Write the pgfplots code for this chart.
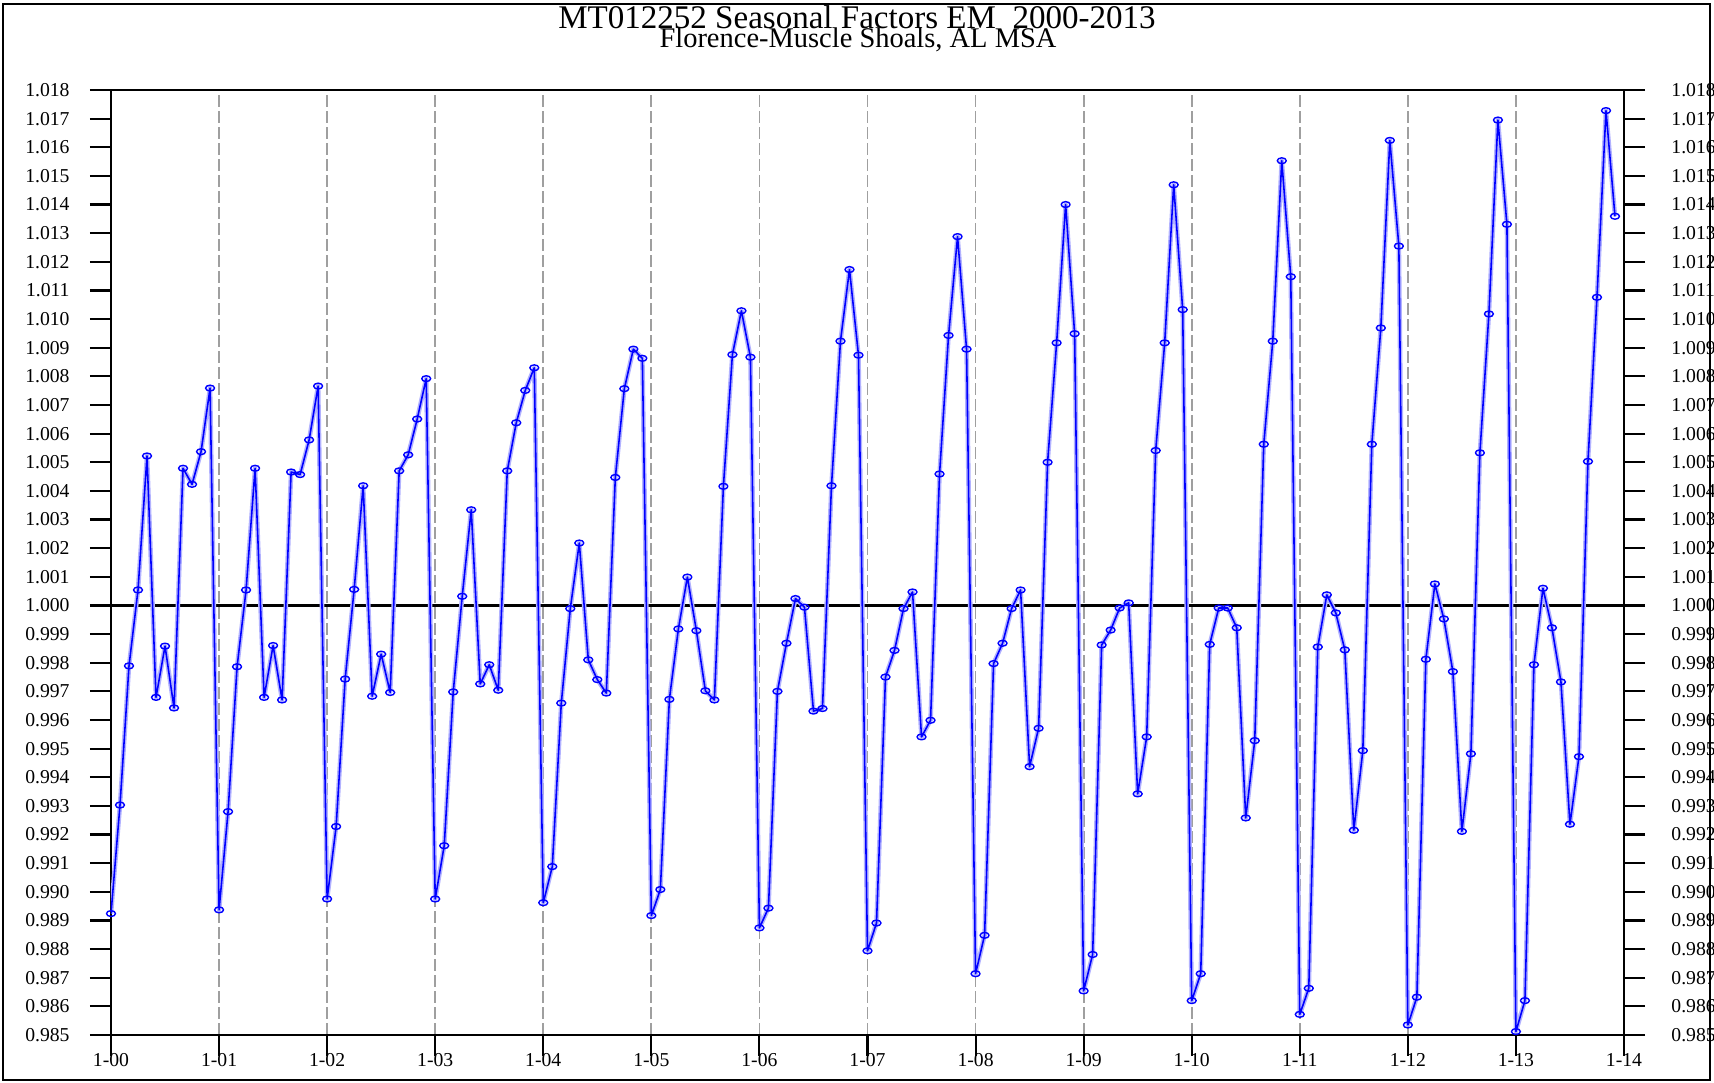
\documentclass[border=0pt]{standalone}
\usepackage{fontspec}
\setmainfont{Liberation Serif}
\usepackage{pgfplots}
\usepackage{pgfplotstable}
\pgfplotsset{compat=1.18}

% seasonal factors, Jan 2000 .. Dec 2013, one year per line
\pgfplotstableread[row sep=\\]{
sf\\
0.98924\\0.99303\\0.99789\\1.00054\\1.00522\\0.99679\\0.99858\\0.99642\\1.00479\\1.00423\\1.00537\\1.00759\\
0.98937\\0.99280\\0.99786\\1.00054\\1.00479\\0.99679\\0.99860\\0.99670\\1.00466\\1.00457\\1.00578\\1.00766\\
0.98975\\0.99228\\0.99743\\1.00056\\1.00418\\0.99683\\0.99830\\0.99696\\1.00470\\1.00526\\1.00651\\1.00792\\
0.98975\\0.99161\\0.99698\\1.00032\\1.00334\\0.99726\\0.99793\\0.99704\\1.00470\\1.00638\\1.00751\\1.00830\\
0.98962\\0.99088\\0.99659\\0.99989\\1.00218\\0.99810\\0.99741\\0.99694\\1.00447\\1.00757\\1.00895\\1.00863\\
0.98917\\0.99008\\0.99672\\0.99918\\1.00099\\0.99912\\0.99702\\0.99670\\1.00416\\1.00876\\1.01029\\1.00867\\
0.98874\\0.98943\\0.99700\\0.99868\\1.00024\\0.99994\\0.99631\\0.99640\\1.00418\\1.00923\\1.01173\\1.00874\\
0.98794\\0.98891\\0.99750\\0.99843\\0.99989\\1.00047\\0.99541\\0.99599\\1.00459\\1.00943\\1.01288\\1.00895\\
0.98714\\0.98848\\0.99797\\0.99868\\0.99989\\1.00054\\0.99437\\0.99571\\1.00500\\1.00917\\1.01400\\1.00949\\
0.98654\\0.98781\\0.99862\\0.99914\\0.99991\\1.00009\\0.99342\\0.99541\\1.00541\\1.00917\\1.01469\\1.01033\\
0.98620\\0.98714\\0.99864\\0.99991\\0.99991\\0.99922\\0.99258\\0.99528\\1.00563\\1.00923\\1.01553\\1.01148\\
0.98572\\0.98663\\0.99855\\1.00037\\0.99974\\0.99845\\0.99215\\0.99493\\1.00563\\1.00969\\1.01624\\1.01255\\
0.98535\\0.98632\\0.99812\\1.00075\\0.99953\\0.99769\\0.99211\\0.99482\\1.00533\\1.01018\\1.01695\\1.01331\\
0.98512\\0.98620\\0.99793\\1.00060\\0.99922\\0.99733\\0.99236\\0.99472\\1.00503\\1.01076\\1.01728\\1.01359\\
}\sfdata

\pgfplotsset{
  sfaxis/.style={
    at={(0,0)}, anchor=south west,
    scale only axis, width=15.13cm, height=9.45cm,
    xmin=0, xmax=14, ymin=0.985, ymax=1.018,
    ytick distance=0.001,
    tick align=outside,
    major tick length=2.1mm,
    tick style={black, line width=0.6pt},
    axis line style={black, line width=0.6pt},
    ticklabel style={font=\fontsize{5.6}{6}\selectfont},
    yticklabel={\pgfmathprintnumber[fixed,fixed zerofill,precision=3,assume math mode=true]{\tick}},
  },
}

\begin{document}
\begin{tikzpicture}
\path[use as bounding box] (-1.11,-0.48) rectangle (16.03,10.35);
\draw[line width=0.6pt] (-1.08,-0.45) rectangle (15.99,10.31);

\begin{axis}[
  sfaxis,
  ytick pos=left,
  xtick pos=bottom,
  yticklabel style={xshift=-0.8mm},
  xtick={0,...,14},
  xticklabels={1-00,1-01,1-02,1-03,1-04,1-05,1-06,1-07,1-08,1-09,1-10,1-11,1-12,1-13,1-14},
  xticklabel style={yshift=1.45mm},
  xmajorgrids,
  major grid style={gray!75, line width=0.5pt, dash pattern=on 1.2mm off 0.4mm},
]
\addplot[black, line width=0.6pt, forget plot] coordinates {(0,1) (14,1)};
\addplot[blue!30, line width=1.3pt, line join=round, forget plot]
  table[x expr=\coordindex/12, y=sf] {\sfdata};
\addplot[blue, line width=0.45pt, line join=round, mark=o, mark size=0.45mm,
  mark options={fill=blue!20, yscale=0.65, line width=0.4pt}]
  table[x expr=\coordindex/12, y=sf] {\sfdata};
\end{axis}

\begin{axis}[
  sfaxis,
  axis x line=none,
  axis y line*=right,
  yticklabel style={xshift=1.4mm},
]
\end{axis}

\node[anchor=base, font=\fontsize{9.4}{9.4}\selectfont] at (7.46,10.06)
  {MT012252 Seasonal Factors EM~ 2000-2013};
\node[anchor=base, font=\fontsize{8.1}{8.1}\selectfont] at (7.47,9.87)
  {Florence-Muscle Shoals, AL MSA};
\end{tikzpicture}
\end{document}
